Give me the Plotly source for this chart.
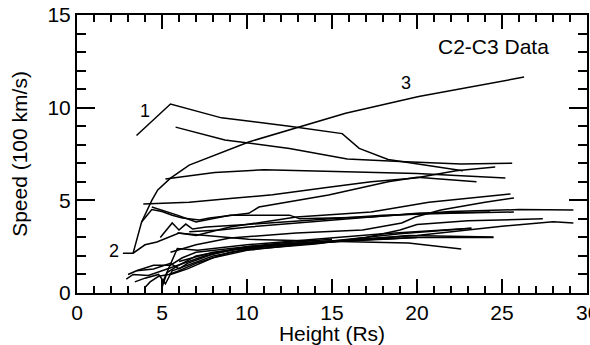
import plotly.graph_objects as go

# Height (Rs) and speed (100 km/s) for each tracked feature
heights = [
    [3.5, 5.5, 8.5, 12.5, 15.6, 16.6, 18.3, 22.7],
    [5.8, 8.7, 12.5, 15.9, 19.0, 22.6, 25.6],
    [3.3, 3.8, 4.4, 4.75, 5.5, 6.6, 10.1, 15.8, 20.1, 26.3],
    [5.2, 8.1, 11.0, 15.0, 20.0, 25.2],
    [3.9, 6.6, 9.0, 11.5, 14.8, 17.3, 19.9, 22.3, 24.6],
    [3.8, 4.4, 5.0, 5.6, 6.2, 7.2, 7.8, 10.1, 10.7, 14.8, 18.3, 20.0, 23.5],
    [4.4, 5.0, 5.9, 7.0, 9.0, 12.5, 13.1, 17.3, 20.0, 24.3],
    [4.9, 5.6, 6.0, 6.4, 6.8, 7.6, 10.0, 14.0, 18.0, 22.0, 25.7],
    [2.7, 3.3, 4.0, 4.7, 6.0, 7.0, 9.0, 12.9, 17.3, 20.7, 25.5],
    [6.6, 8.4, 10.1, 14.0, 18.0, 22.0, 26.0, 29.2],
    [5.5, 7.0, 9.0, 12.9, 16.8, 19.1, 19.9, 21.4, 24.0, 25.7],
    [5.9, 7.4, 10.1, 14.0, 19.5, 22.6],
    [2.9, 3.3, 4.2, 5.3, 6.3, 7.5, 9.5, 12.0, 15.0, 19.5, 24.5],
    [3.0, 3.5, 4.5, 5.5, 6.0, 6.5, 8.0, 10.0, 13.0, 16.0, 20.0],
    [3.4, 4.0, 4.8, 5.2, 5.6, 6.5, 8.0, 10.0, 14.0, 17.0, 19.0, 20.0, 23.0, 27.4],
    [4.0, 4.3, 4.8, 5.4, 6.0, 7.0, 9.0, 11.0, 15.0, 20.0, 25.0, 28.0, 29.2],
    [5.0, 5.9, 7.1, 10.0, 14.0, 18.0, 23.2],
    [5.0, 5.3, 5.8, 7.0, 10.0, 13.0, 16.0, 19.0],
    [5.5, 6.5, 8.0, 10.0, 13.0, 16.0, 20.0, 24.5],
    [3.5, 4.5, 5.5, 6.2, 7.0, 9.0, 12.0, 15.0],
    [6.0, 8.0, 11.0, 15.0, 19.0, 23.2],
]
speeds = [
    [8.5, 10.2, 9.45, 9.0, 8.6, 7.8, 7.2, 6.6],
    [8.95, 8.25, 7.8, 7.23, 7.1, 6.96, 7.0],
    [2.15, 3.83, 5.0, 5.56, 6.2, 6.9, 8.15, 9.7, 10.6, 11.65],
    [6.15, 6.5, 6.65, 6.55, 6.45, 6.2],
    [4.8, 4.9, 5.1, 5.3, 5.7, 6.0, 6.2, 6.6, 6.8],
    [3.83, 4.5, 4.4, 4.2, 4.05, 3.94, 4.05, 4.3, 4.64, 5.29, 6.0, 6.25, 6.0],
    [4.64, 4.48, 4.2, 3.83, 4.2, 4.2, 4.0, 4.1, 4.3, 4.37],
    [3.0, 3.78, 3.4, 3.72, 3.45, 3.56, 3.7, 3.95, 4.2, 4.3, 4.37],
    [2.15, 2.15, 2.6, 2.75, 3.24, 3.1, 3.56, 4.1, 4.37, 4.9, 5.34],
    [3.3, 3.4, 3.56, 3.85, 4.15, 4.4, 4.5, 4.48],
    [2.2, 2.6, 2.97, 3.24, 3.4, 3.78, 4.1, 4.48, 4.9, 5.13],
    [3.24, 3.13, 2.9, 2.8, 2.7, 2.37],
    [0.75, 1.0, 0.95, 1.3, 1.6, 2.0, 2.4, 2.6, 2.75, 3.1, 3.02],
    [1.0, 1.2, 1.3, 1.6, 1.3, 1.6, 2.1, 2.5, 2.7, 2.8, 3.0],
    [0.6, 0.8, 1.0, 0.5, 1.2, 1.5, 2.0, 2.35, 2.65, 3.0, 3.4, 3.7, 3.9, 4.0],
    [0.3, 0.6, 0.9, 1.0, 1.2, 1.6, 2.2, 2.5, 2.8, 3.1, 3.6, 3.85, 3.78],
    [0.5, 2.4, 2.3, 2.6, 2.9, 3.2, 3.5],
    [0.3, 1.1, 1.4, 2.0, 2.5, 2.7, 2.85, 2.95],
    [1.0, 1.3, 1.9, 2.3, 2.6, 2.85, 3.0, 3.0],
    [1.2, 1.5, 1.5, 1.9, 2.2, 2.4, 2.7, 2.9],
    [1.7, 2.2, 2.5, 2.8, 3.2, 3.5],
]

label_text = ["1", "2", "3"]
label_x = [3.98, 2.17, 19.36]
label_y = [9.82, 2.24, 11.31]

x_range = [0, 30]
y_range = [0, 15]
major_step = 5
minor_step = 1

FONT = "Liberation Sans, Arial, Helvetica, sans-serif"

fig = go.Figure()
for hx, sy in zip(heights, speeds):
    fig.add_trace(go.Scatter(x=hx, y=sy, mode="lines",
                             line=dict(color="black", width=1.5),
                             hoverinfo="skip"))

annotations = []
for t, ax_, ay_ in zip(label_text, label_x, label_y):
    annotations.append(dict(x=ax_, y=ay_, xref="x", yref="y", text=t,
                            showarrow=False, font=dict(size=18, family=FONT, color="black")))
annotations.append(dict(x=27.9, y=13.3, xref="x", yref="y", text="C2-C3 Data",
                        xanchor="right", showarrow=False,
                        font=dict(size=21, family=FONT, color="black")))
# last x tick label, cut by the page edge as in the original
annotations.append(dict(x=30, y=0, xref="x", yref="y", text="30",
                        xanchor="center", yanchor="middle", yshift=-19,
                        showarrow=False, font=dict(size=21, family=FONT, color="black")))

fig.update_layout(
    width=590, height=345,
    margin=dict(l=77, r=1, t=15, b=52),
    plot_bgcolor="white", paper_bgcolor="white",
    showlegend=False,
    font=dict(family=FONT, size=21, color="black"),
    annotations=annotations,
    xaxis=dict(range=x_range, tickmode="linear", tick0=0, dtick=major_step,
               ticks="inside", ticklen=14, tickwidth=2, tickcolor="black",
               showline=True, linewidth=2, linecolor="black", mirror="allticks",
               showgrid=False, zeroline=False,
               tickfont=dict(size=21, family=FONT, color="black"),
               minor=dict(tick0=0, dtick=minor_step, ticks="inside", ticklen=7,
                          tickwidth=1.5, tickcolor="black", showgrid=False),
               title=dict(text="Height (Rs)", standoff=0,
                          font=dict(size=21, family=FONT, color="black"))),
    yaxis=dict(range=y_range, tickmode="linear", tick0=0, dtick=major_step,
               ticks="inside", ticklen=18, tickwidth=2, tickcolor="black",
               showline=True, linewidth=2, linecolor="black", mirror="allticks",
               showgrid=False, zeroline=False,
               tickfont=dict(size=21, family=FONT, color="black"),
               minor=dict(tick0=0, dtick=minor_step, ticks="inside", ticklen=9,
                          tickwidth=1.5, tickcolor="black", showgrid=False),
               title=dict(text="Speed (100 km/s)", standoff=14,
                          font=dict(size=21, family=FONT, color="black"))),
)

fig.write_html("out.html")
